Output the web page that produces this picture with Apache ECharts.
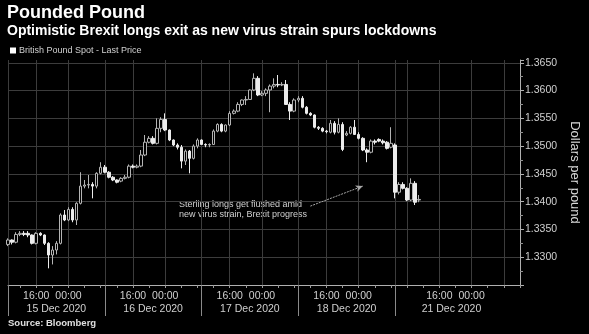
<!DOCTYPE html>
<html><head><meta charset="utf-8">
<script src="https://cdn.jsdelivr.net/npm/echarts@6/dist/echarts.min.js"></script>
<style>html,body{margin:0;padding:0;background:#000;}#c{width:589px;height:334px;}</style>
</head><body><div id="c"></div>
<script>
// ---- data (hourly GBPUSD candles) ----
const openPrices = [1.3323,1.3331,1.3327,1.3341,1.3343,1.3343,1.3340,1.3325,1.3343,1.3340,
 1.3325,1.3304,1.3313,1.3325,1.3376,1.3367,1.3386,1.3367,1.3397,1.3428,
 1.3430,1.3431,1.3428,1.3451,1.3462,1.3453,1.3444,1.3439,1.3437,1.3442,
 1.3444,1.3464,1.3462,1.3464,1.3484,1.3507,1.3514,1.3505,1.3532,1.3548,
 1.3529,1.3511,1.3502,1.3498,1.3473,1.3491,1.3478,1.3500,1.3511,1.3503,
 1.3502,1.3503,1.3527,1.3539,1.3527,1.3538,1.3559,1.3563,1.3575,1.3583,
 1.3584,1.3601,1.3622,1.3592,1.3595,1.3601,1.3608,1.3611,1.3610,1.3611,
 1.3575,1.3563,1.3583,1.3586,1.3570,1.3559,1.3556,1.3534,1.3532,1.3527,
 1.3525,1.3541,1.3525,1.3539,1.3520,1.3523,1.3534,1.3521,1.3514,1.3493,
 1.3489,1.3509,1.3512,1.3509,1.3507,1.3498,1.3502,1.3417,1.3431,1.3424,
 1.3403,1.3433,1.3403];
const closePrices = [1.3331,1.3327,1.3341,1.3343,1.3341,1.3340,1.3325,1.3343,1.3340,1.3325,
 1.3304,1.3313,1.3325,1.3376,1.3367,1.3386,1.3367,1.3397,1.3428,1.3430,
 1.3431,1.3428,1.3451,1.3462,1.3453,1.3444,1.3439,1.3435,1.3442,1.3444,
 1.3464,1.3462,1.3464,1.3484,1.3507,1.3514,1.3505,1.3532,1.3548,1.3529,
 1.3511,1.3502,1.3498,1.3473,1.3491,1.3478,1.3500,1.3511,1.3503,1.3502,
 1.3503,1.3527,1.3539,1.3527,1.3538,1.3559,1.3563,1.3575,1.3583,1.3584,
 1.3601,1.3622,1.3592,1.3595,1.3601,1.3608,1.3611,1.3610,1.3611,1.3575,
 1.3563,1.3583,1.3586,1.3570,1.3559,1.3556,1.3534,1.3532,1.3527,1.3526,
 1.3541,1.3525,1.3539,1.3494,1.3523,1.3534,1.3521,1.3514,1.3493,1.3489,
 1.3509,1.3507,1.3509,1.3506,1.3496,1.3505,1.3417,1.3431,1.3424,1.3403,
 1.3433,1.3399,1.3404];
const lowPrices = [1.3320,1.3323,1.3325,1.3338,1.3338,1.3336,1.3323,1.3323,1.3338,1.3322,
 1.3280,1.3287,1.3305,1.3323,1.3365,1.3365,1.3363,1.3358,1.3395,1.3424,
 1.3424,1.3406,1.3424,1.3449,1.3451,1.3442,1.3437,1.3433,1.3435,1.3440,
 1.3442,1.3460,1.3460,1.3462,1.3482,1.3505,1.3503,1.3503,1.3525,1.3527,
 1.3509,1.3500,1.3494,1.3460,1.3466,1.3451,1.3476,1.3496,1.3502,1.3498,
 1.3498,1.3502,1.3525,1.3525,1.3525,1.3536,1.3557,1.3561,1.3572,1.3574,
 1.3583,1.3599,1.3590,1.3590,1.3590,1.3561,1.3604,1.3606,1.3608,1.3574,
 1.3547,1.3561,1.3579,1.3568,1.3557,1.3554,1.3532,1.3529,1.3525,1.3523,
 1.3523,1.3521,1.3523,1.3491,1.3518,1.3521,1.3520,1.3512,1.3491,1.3471,
 1.3487,1.3503,1.3507,1.3503,1.3494,1.3496,1.3406,1.3413,1.3422,1.3401,
 1.3401,1.3394,1.3399];
const highPrices = [1.3334,1.3332,1.3345,1.3347,1.3347,1.3347,1.3341,1.3345,1.3345,1.3341,
 1.3327,1.3320,1.3329,1.3379,1.3385,1.3390,1.3390,1.3399,1.3453,1.3439,
 1.3448,1.3435,1.3453,1.3471,1.3466,1.3455,1.3446,1.3440,1.3444,1.3448,
 1.3467,1.3467,1.3467,1.3493,1.3520,1.3518,1.3518,1.3550,1.3552,1.3559,
 1.3530,1.3512,1.3505,1.3502,1.3494,1.3493,1.3503,1.3514,1.3512,1.3505,
 1.3505,1.3530,1.3541,1.3541,1.3539,1.3563,1.3566,1.3579,1.3584,1.3590,
 1.3602,1.3631,1.3626,1.3599,1.3604,1.3611,1.3622,1.3628,1.3615,1.3619,
 1.3579,1.3586,1.3590,1.3590,1.3572,1.3561,1.3557,1.3536,1.3534,1.3529,
 1.3547,1.3545,1.3550,1.3543,1.3527,1.3536,1.3547,1.3525,1.3516,1.3496,
 1.3512,1.3512,1.3514,1.3512,1.3509,1.3534,1.3505,1.3435,1.3435,1.3426,
 1.3442,1.3437,1.3412];

const dayNames = ['15 Dec 2020','16 Dec 2020','17 Dec 2020','18 Dec 2020','21 Dec 2020'];
const sessionStartHour = [9, 9, 9, 9, 5];
const sessionHours = [24, 24, 24, 24, 32];
const dayLabelOffset = [12, 12, 12, 12, 14];   // hours from session start to date label
const timeLabelHours = [16, 0];
const timeLabelText = {16: '16:00', 0: '00:00'};
const gridHours = [16, 0, 8];
const yMin = 1.325, yMax = 1.3655, yStep = 0.005;

const seriesName = 'British Pound Spot - Last Price';
const titleText = 'Pounded Pound';
const subtitleText = 'Optimistic Brexit longs exit as new virus strain spurs lockdowns';
const noteText = 'Sterling longs get flushed amid\nnew virus strain, Brexit progress';
const sourceText = 'Source: Bloomberg';
const yName = 'Dollars per pound';

// ---- categories (one per hour) ----
const categories = [], catHour = [], catDay = [], dayStartIdx = [];
sessionHours.forEach((n, d) => {
  dayStartIdx.push(categories.length);
  for (let k = 0; k < n; k++) {
    const h = (sessionStartHour[d] + k) % 24;
    categories.push(dayNames[d] + ' ' + String(h).padStart(2, '0') + ':00');
    catHour.push(h); catDay.push(d);
  }
});
const dayLabelIdx = dayStartIdx.map((s, d) => s + dayLabelOffset[d]);
const ohlc = openPrices.map((o, i) => [o, closePrices[i], lowPrices[i], highPrices[i]]);

const isDayStart = i => dayStartIdx.indexOf(i) >= 0;
const isGrid = i => isDayStart(i) || (gridHours.indexOf(catHour[i]) >= 0 && !isDayStart(i + 1));
const isTimeLabel = i => timeLabelHours.indexOf(catHour[i]) >= 0;
const isDayLabel = i => dayLabelIdx.indexOf(i) >= 0;

const font = 'Liberation Sans, Arial, sans-serif';
const lab = {color: '#d0d0d0', fontSize: 10.5, fontFamily: font};
const chart = echarts.init(document.getElementById('c'), null, {renderer: 'canvas'});
chart.setOption({
  backgroundColor: '#000',
  animation: false,
  title: [
    {text: titleText, left: 7, top: 4, padding: 0,
     textStyle: {color: '#fff', fontSize: 18, fontWeight: 'bold', fontFamily: font}},
    {text: subtitleText, left: 7, top: 24, padding: 0,
     textStyle: {color: '#fff', fontSize: 14, fontWeight: 'bold', fontFamily: font}},
    {text: sourceText, left: 8, top: 318, padding: 0,
     textStyle: {color: '#e0e0e0', fontSize: 9.5, fontWeight: 'bold', fontFamily: font}}
  ],
  legend: {
    left: 10, top: 46, padding: 0, itemWidth: 6, itemHeight: 6, itemGap: 4,
    textStyle: {color: '#d0d0d0', fontSize: 9, fontFamily: font, padding: [0,0,0,-2]},
    data: [{name: seriesName, icon: 'rect', itemStyle: {color: '#fff', borderColor: '#fff', borderWidth: 0}}]
  },
  grid: {left: 8, right: 59, top: 60, bottom: 49, containLabel: false},
  xAxis: [{
    type: 'category', data: categories, boundaryGap: false, position: 'bottom',
    axisLine: {show: true, lineStyle: {color: '#b0b0b0', width: 1}},
    axisTick: {show: true, length: 31, interval: (i) => isDayStart(i), lineStyle: {color: '#8a8a8a'}},
    axisLabel: Object.assign({show: true, interval: (i) => isTimeLabel(i), margin: 6,
      formatter: (v, i) => timeLabelText[catHour[i]]}, lab),
    splitLine: {show: true, interval: (i) => isGrid(i), lineStyle: {color: '#3c3c3c', width: 1}}
  }, {
    type: 'category', data: categories, boundaryGap: false, position: 'bottom', gridIndex: 0,
    axisLine: {show: false},
    axisTick: {show: true, length: 3, interval: (i) => catHour[i] % 4 === 0, lineStyle: {color: '#9a9a9a'}},
    axisLabel: Object.assign({show: true, interval: (i) => isDayLabel(i), margin: 19,
      formatter: (v, i) => dayNames[catDay[i]]}, lab),
    splitLine: {show: false}
  }],
  yAxis: {
    type: 'value', position: 'right', min: yMin, max: yMax, interval: yStep, scale: true,
    name: yName, nameLocation: 'middle', nameRotate: -90, nameGap: 40,
    nameTextStyle: {color: '#d8d8d8', fontSize: 13, fontFamily: font},
    axisLine: {show: true, lineStyle: {color: '#b0b0b0'}},
    axisTick: {show: true, length: 4, lineStyle: {color: '#b0b0b0'}},
    minorTick: {show: true, splitNumber: 2, length: 3, lineStyle: {color: '#909090'}},
    axisLabel: {color: '#d0d0d0', fontSize: 10.5, fontFamily: font, margin: 5, showMaxLabel: false,
      formatter: v => {
        const k = Math.round(v / yStep);
        return (Math.abs(v / yStep - k) < 1e-6 && v > yMin + 1e-6) ? v.toFixed(4) : '';
      }},
    splitLine: {show: true, showMinLine: false, showMaxLine: false, lineStyle: {color: '#3c3c3c', width: 1}}
  },
  series: [{
    name: seriesName, type: 'candlestick', xAxisIndex: 0, data: ohlc, barWidth: 3, clip: false,
    itemStyle: {color: '#000', color0: '#ececec', borderColor: '#b4b4b4', borderColor0: '#ececec', borderWidth: 1},
    markLine: {
      silent: true, symbol: ['none', 'arrow'], symbolSize: [5, 7],
      label: {show: false},
      lineStyle: {color: '#a8a8a8', width: 1, type: [2, 1]},
      data: [[{coord: [categories[75], 1.3392]}, {coord: [categories[88], 1.3428]}]]
    }
  }],
  graphic: [{
    type: 'text', left: 179, top: 199, silent: true,
    style: {text: noteText, fill: '#d0d0d0', font: '9px ' + font, lineHeight: 10.5}
  }]
});
</script></body></html>
